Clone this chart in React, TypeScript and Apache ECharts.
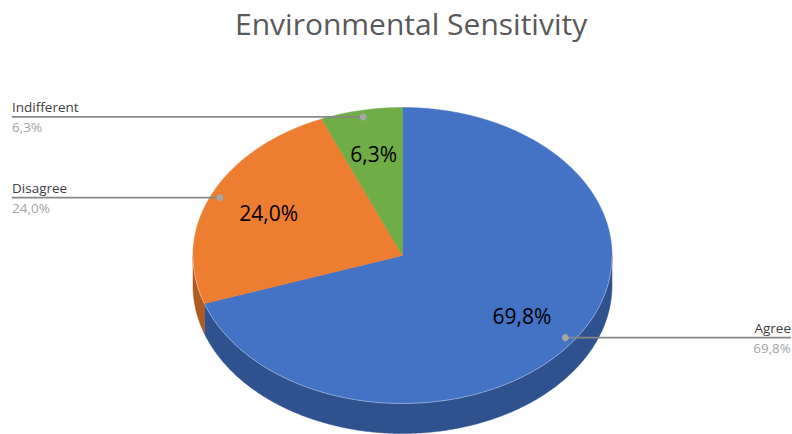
import React, { useEffect, useRef } from "react";
import * as echarts from "echarts";

// Survey answers (percent of respondents)
const categories = ["Agree", "Disagree", "Indifferent"];
const values = [69.8, 24.0, 6.3];

// Office-style palette: top faces and darker side walls
const topColors = ["#4472C4", "#ED7D31", "#70AD47"];
const sideColors = ["#2F528F", "#AE5A21", "#507E32"];

const titleText = "Environmental Sensitivity";
const FONT = "'Open Sans', 'Noto Sans', sans-serif";

const fmtPct = (v: number) => v.toFixed(1).replace(".", ",") + "%";

export default function App() {
  const ref = useRef<HTMLDivElement>(null);

  useEffect(() => {
    if (!ref.current) return;
    document.body.style.margin = "0";
    const chart = echarts.init(ref.current, undefined, { renderer: "svg" });

    const total = values.reduce((a, b) => a + b, 0);
    const starts: number[] = [];
    let acc = 0;
    values.forEach((v) => {
      starts.push(acc);
      acc += v;
    });

    // tilted-disc geometry
    const cx = 402.5;
    const cy = 255.5;
    const rx = 209.5;
    const ry = 148;
    const depth = 30;

    const pt = (deg: number, f = 1, dy = 0): number[] => {
      const a = (deg * Math.PI) / 180;
      return [cx + rx * f * Math.sin(a), cy - ry * f * Math.cos(a) + dy];
    };
    const arc = (a0: number, a1: number, dy = 0): number[][] => {
      const n = Math.max(2, Math.ceil(Math.abs(a1 - a0) * 2));
      const out: number[][] = [];
      for (let k = 0; k <= n; k++) out.push(pt(a0 + ((a1 - a0) * k) / n, 1, dy));
      return out;
    };

    const renderItem = (params: any, api: any) => {
      const i = params.dataIndex;
      const v = api.value(0) as number;
      const a0 = (starts[i] / total) * 360;
      const a1 = ((starts[i] + v) / total) * 360;
      const mid = (a0 + a1) / 2;
      const children: any[] = [];

      // front side wall (visible between 90° and 270°)
      const s0 = Math.max(a0, 90);
      const s1 = Math.min(a1, 270);
      if (s1 > s0) {
        const topArc = arc(s0, s1, 0);
        const botArc = arc(s1, s0, depth);
        children.push({
          type: "polygon",
          z2: 1,
          shape: { points: topArc.concat(botArc) },
          style: { fill: sideColors[i], stroke: sideColors[i], lineWidth: 0.5 },
        });
        children.push({
          type: "polyline",
          z2: 3,
          shape: { points: topArc },
          style: { stroke: "rgba(255,255,255,0.35)", lineWidth: 1, fill: null },
        });
      }

      // top face
      children.push({
        type: "polygon",
        z2: 2,
        shape: { points: [[cx, cy]].concat(arc(a0, a1, 0)) },
        style: { fill: topColors[i], stroke: topColors[i], lineWidth: 0.5 },
      });

      // value label inside the slice
      const inner = pt(mid, 0.7);
      children.push({
        type: "text",
        z2: 10,
        style: {
          text: fmtPct(v),
          x: inner[0],
          y: inner[1],
          align: "center",
          verticalAlign: "middle",
          fill: "#000000",
          fontSize: 21,
          fontFamily: FONT,
        },
      });

      // leader line with category and percentage at the chart edge
      const dot = pt(mid, 0.955);
      const leftSide = dot[0] < cx;
      const edgeX = leftSide ? 12 : 791;
      children.push({
        type: "line",
        z2: 8,
        shape: { x1: edgeX, y1: dot[1], x2: dot[0], y2: dot[1] },
        style: { stroke: "#878787", lineWidth: 1.75 },
      });
      children.push({
        type: "circle",
        z2: 9,
        shape: { cx: dot[0], cy: dot[1], r: 3.5 },
        style: { fill: "#A6A6A6" },
      });
      children.push({
        type: "text",
        z2: 10,
        style: {
          text: categories[i],
          x: edgeX,
          y: dot[1] - 3,
          align: leftSide ? "left" : "right",
          verticalAlign: "bottom",
          fill: "#404040",
          fontSize: 13.5,
          fontFamily: FONT,
        },
      });
      children.push({
        type: "text",
        z2: 10,
        style: {
          text: fmtPct(v),
          x: edgeX,
          y: dot[1] + 3,
          align: leftSide ? "left" : "right",
          verticalAlign: "top",
          fill: "#A6A6A6",
          fontSize: 13.5,
          fontFamily: FONT,
        },
      });

      return { type: "group", children };
    };

    chart.setOption({
      animation: false,
      backgroundColor: "#ffffff",
      title: {
        text: titleText,
        left: 230,
        top: 3,
        textStyle: {
          fontSize: 30,
          fontWeight: "normal",
          color: "#595959",
          fontFamily: FONT,
        },
      },
      series: [
        {
          type: "custom",
          coordinateSystem: "none",
          silent: true,
          renderItem,
          data: values.map((v, i) => ({ name: categories[i], value: v })),
        },
      ],
    });

    return () => chart.dispose();
  }, []);

  return <div ref={ref} style={{ width: 792, height: 434 }} />;
}
